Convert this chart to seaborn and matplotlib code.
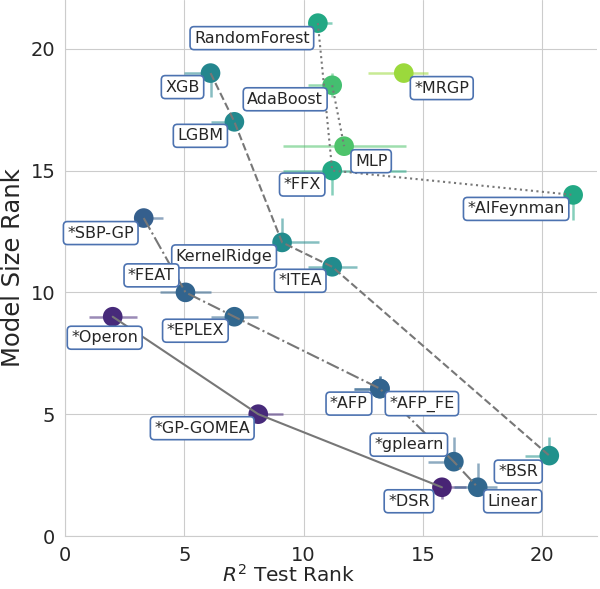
import matplotlib
matplotlib.use("Agg")
import matplotlib.pyplot as plt
import seaborn as sns
import pandas as pd

# rank data
algorithms = ["RandomForest", "XGB", "AdaBoost", "*MRGP", "LGBM", "MLP", "*FFX",
              "*AIFeynman", "*SBP-GP", "KernelRidge", "*ITEA", "*FEAT", "*Operon",
              "*EPLEX", "*AFP", "*AFP_FE", "*GP-GOMEA", "*gplearn", "*BSR", "*DSR",
              "Linear"]
r2_rank = [10.6, 6.1, 11.2, 14.2, 7.1, 11.7, 11.2, 21.3, 3.3, 9.1, 11.2, 5.05,
           2.0, 7.1, 13.2, 13.2, 8.1, 16.3, 20.3, 15.8, 17.3]
size_rank = [21.05, 19.0, 18.5, 19.0, 17.0, 16.0, 15.0, 14.0, 13.05, 12.05, 11.05,
             10.0, 9.0, 9.0, 6.05, 6.05, 5.0, 3.05, 3.3, 2.0, 2.0]
color_value = [0.60, 0.46, 0.70, 0.85, 0.47, 0.72, 0.60, 0.60, 0.30, 0.48, 0.48,
               0.32, 0.12, 0.33, 0.32, 0.32, 0.12, 0.33, 0.50, 0.10, 0.33]
front = [4, 3, 5, 6, 3, 5, 4, 4, 2, 3, 3, 2, 1, 2, 2, 2, 1, 2, 3, 1, 2]

# confidence intervals (below, above)
x_lo = [0.4, 1.1, 1.0, 1.5, 1.0, 2.55, 2.05, 0.0, 0.0, 0.3, 1.0, 1.05, 1.0, 1.0,
        1.1, 1.1, 0.0, 1.1, 1.0, 0.0, 1.0]
x_hi = [0.6, 0.0, 0.0, 1.0, 0.0, 2.6, 3.1, 0.0, 0.8, 1.55, 1.05, 1.05, 1.0, 1.0,
        0.0, 0.0, 1.05, 0.0, 0.0, 1.0, 0.8]
y_lo = [0.0, 1.0, 0.5, 0.0, 0.0, 0.0, 1.0, 1.05, 0.0, 0.0, 0.0, 0.0, 0.0, 0.0,
        0.0, 0.0, 0.0, 0.0, 0.0, 0.5, 0.0]
y_hi = [0.0, 0.0, 0.5, 0.0, 0.0, 0.0, 0.3, 0.0, 0.0, 1.0, 0.0, 0.0, 0.0, 0.0,
        0.5, 0.5, 0.0, 1.0, 0.75, 0.0, 1.0]

# label offsets in pixels (label centre relative to point)
label_offset = {
    "RandomForest": (-66, -15), "XGB": (-28, -14), "AdaBoost": (-47, -14),
    "*MRGP": (38, -15), "LGBM": (-34, -14), "MLP": (27, -15), "*FFX": (-30, -14),
    "*AIFeynman": (-57, -14), "*SBP-GP": (-43, -15), "KernelRidge": (-58, -14),
    "*ITEA": (-32, -14), "*FEAT": (-34, 17), "*Operon": (-8, -21),
    "*EPLEX": (-39, -14), "*AFP": (-31, -15), "*AFP_FE": (42, -15),
    "*GP-GOMEA": (-56, -14), "*gplearn": (-45, 17), "*BSR": (-31, -16),
    "*DSR": (-33, -14), "Linear": (35, -14),
}

df = pd.DataFrame({"algorithm": algorithms, "r2": r2_rank, "size": size_rank,
                   "c": color_value, "front": front})

sns.set_style("whitegrid")
plt.rcParams["font.family"] = ["DejaVu Sans"]

fig, ax = plt.subplots(figsize=(6, 5.89), dpi=100)
fig.subplots_adjust(left=65 / 600, right=597 / 600, bottom=53 / 589, top=1.0)

cmap = plt.cm.viridis
for i, row in df.iterrows():
    ax.errorbar(row["r2"], row["size"],
                xerr=[[x_lo[i]], [x_hi[i]]], yerr=[[y_lo[i]], [y_hi[i]]],
                fmt="none", ecolor=cmap(row["c"]), alpha=0.55, lw=1.8,
                capsize=0, zorder=2)

sns.scatterplot(data=df, x="r2", y="size", hue="c", palette="viridis",
                hue_norm=(0, 1), s=200, edgecolor="none", legend=False,
                ax=ax, zorder=3)

styles = {1: "-", 2: "-.", 3: "--", 4: ":", 5: ":"}
for f, ls in styles.items():
    sub = df[df["front"] == f].sort_values("r2")
    ax.plot(sub["r2"], sub["size"], ls=ls, color="#777777", lw=1.5, zorder=4)

for i, row in df.iterrows():
    dx, dy = label_offset[row["algorithm"]]
    ax.annotate(row["algorithm"], (row["r2"], row["size"]),
                xytext=(dx, dy), textcoords="offset pixels",
                ha="center", va="center", fontsize=11.5, color="#262626",
                bbox=dict(boxstyle="round,pad=0.25", fc="white", ec="#4c72b0",
                          lw=1.2), zorder=5)

ax.set_xlim(0, 22.3)
ax.set_ylim(0, 22)
ax.set_xticks([0, 5, 10, 15, 20])
ax.set_yticks([0, 5, 10, 15, 20])
ax.tick_params(labelsize=14, colors="#262626")
ax.set_xlabel("$R^2$ Test Rank", fontsize=14.5, color="#262626")
ax.xaxis.set_label_coords(0.42, -0.052)
ax.set_ylabel("Model Size Rank", fontsize=17.5, color="#262626")
sns.despine(ax=ax)

fig.savefig("out.png", dpi=100)
